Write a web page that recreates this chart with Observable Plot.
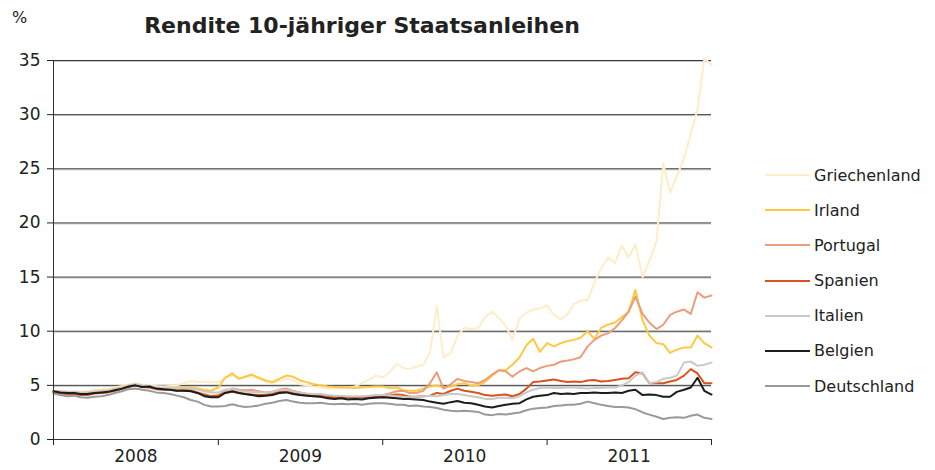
<!DOCTYPE html>
<html>
<head>
<meta charset="utf-8">
<script src="https://cdn.jsdelivr.net/npm/d3@7"></script>
<script src="https://cdn.jsdelivr.net/npm/@observablehq/plot@0.6"></script>
<style>
  html, body { margin: 0; padding: 0; background: #fff; }
  body { font-family: "DejaVu Sans", Verdana, sans-serif; color: #222; }
  #wrap { position: relative; width: 935px; height: 470px; overflow: hidden; }
  #chart { position: absolute; left: 0; top: 0; }
  #title { position: absolute; left: 0; width: 724px; top: 15px; text-align: center;
           font-weight: bold; font-size: 22px; line-height: 22px; color: #222; }
  #unit { position: absolute; left: 12px; top: 10px; font-size: 16px; line-height: 16px; color: #222; }
  .leg { position: absolute; left: 765px; height: 20px; display: flex; align-items: center;
         font-size: 16px; color: #222; white-space: nowrap; }
  .leg .sw { display: inline-block; width: 45px; height: 2px; margin-right: 4px; }
</style>
</head>
<body>
<div id="wrap">
  <div id="chart"></div>
  <div id="title">Rendite 10-jähriger Staatsanleihen</div>
  <div id="unit">%</div>
</div>
<script>
// ---- Data (10-year government bond yields, %, half-monthly readings Jan 2008 – Dec 2011) ----
const laender = ["Griechenland", "Irland", "Portugal", "Spanien", "Italien", "Belgien", "Deutschland"];
const farben  = ["#fdeec9", "#fdc943", "#eb9e78", "#d9531e", "#c9c9c9", "#1c1c1c", "#9a9a9a"];

const yTicks = [0, 5, 10, 15, 20, 25, 30, 35];
const jahre = [2008, 2009, 2010, 2011];

const griechenland = [
  4.45, 4.4, 4.4, 4.45, 4.45, 4.5, 4.6, 4.65, 4.65, 4.8, 4.95, 5.1, 5.2, 5.05, 5.05, 4.95, 4.9, 4.95, 5.0, 5.2, 5.4, 5.3, 5.35, 5.3,
  5.3, 5.7, 5.9, 5.7, 5.75, 5.8, 5.6, 5.35, 5.2, 5.4, 5.6, 5.5, 5.1, 5.0, 4.9, 4.8, 4.7, 4.7, 4.75, 4.75, 4.9, 5.2, 5.5, 5.9,
  5.75, 6.2, 7.0, 6.6, 6.5, 6.7, 6.9, 8.0, 12.3, 7.6, 8.0, 9.6, 10.3, 10.2, 10.3, 11.3, 11.8, 11.2, 10.5, 9.2, 11.2, 11.7, 12.0, 12.1,
  12.4, 11.5, 11.1, 11.6, 12.5, 12.8, 12.9, 14.5, 15.8, 16.8, 16.3, 17.9, 16.8, 18.0, 15.0, 16.5, 18.3, 25.5, 22.8, 24.3, 26.0, 28.2, 30.5, 35.2, 34.6
];
const irland = [
  4.35, 4.3, 4.25, 4.3, 4.3, 4.35, 4.4, 4.5, 4.55, 4.7, 4.85, 5.0, 5.05, 4.9, 4.9, 4.75, 4.75, 4.8, 4.75, 4.85, 4.8, 4.7, 4.6, 4.5,
  4.8, 5.7, 6.1, 5.6, 5.8, 6.0, 5.7, 5.45, 5.3, 5.6, 5.9, 5.8, 5.45, 5.3, 5.1, 5.0, 4.9, 4.85, 4.8, 4.8, 4.75, 4.8, 4.85, 4.9,
  4.9, 4.75, 4.8, 4.55, 4.5, 4.5, 4.7, 4.9, 5.0, 4.8, 4.9, 5.1, 5.2, 5.0, 5.0, 5.3, 5.9, 6.4, 6.4, 6.9, 7.6, 8.7, 9.3, 8.1,
  8.9, 8.6, 8.9, 9.1, 9.2, 9.4, 10.0, 9.3, 10.3, 10.6, 10.8, 11.3, 11.8, 13.8, 11.0, 9.6, 8.9, 8.8, 8.0, 8.3, 8.5, 8.5, 9.6, 8.9, 8.5
];
const portugal = [
  4.45, 4.35, 4.3, 4.35, 4.25, 4.3, 4.4, 4.45, 4.5, 4.6, 4.75, 4.95, 5.05, 4.95, 4.9, 4.75, 4.7, 4.7, 4.6, 4.65, 4.55, 4.35, 4.2, 4.0,
  4.1, 4.5, 4.7, 4.6, 4.55, 4.6, 4.45, 4.35, 4.4, 4.6, 4.7, 4.5, 4.35, 4.2, 4.1, 4.05, 3.95, 3.9, 3.95, 3.9, 3.9, 3.95, 4.0, 4.05,
  4.1, 4.25, 4.45, 4.5, 4.3, 4.3, 4.5, 5.2, 6.2, 4.7, 5.1, 5.6, 5.4, 5.3, 5.2, 5.5, 6.0, 6.4, 6.3, 5.8, 6.3, 6.6, 6.3, 6.6,
  6.8, 6.9, 7.2, 7.3, 7.4, 7.6, 8.6, 9.2, 9.6, 9.8, 10.3, 11.0, 11.8, 13.2, 11.6, 10.8, 10.2, 10.6, 11.5, 11.8, 12.0, 11.6, 13.6, 13.1, 13.3
];
const spanien = [
  4.35, 4.25, 4.2, 4.2, 4.1, 4.1, 4.25, 4.3, 4.35, 4.5, 4.65, 4.85, 5.0, 4.85, 4.8, 4.65, 4.6, 4.6, 4.5, 4.55, 4.5, 4.3, 4.1, 4.0,
  4.05, 4.3, 4.4, 4.3, 4.2, 4.15, 4.1, 4.1, 4.2, 4.4, 4.45, 4.3, 4.2, 4.1, 4.0, 4.0, 3.95, 3.9, 3.95, 3.85, 3.85, 3.85, 3.9, 3.95,
  4.0, 4.05, 4.15, 4.1, 3.95, 3.95, 4.0, 4.05, 4.3, 4.2, 4.5, 4.7, 4.5, 4.4, 4.3, 4.1, 4.05, 4.1, 4.15, 4.0, 4.2, 4.7, 5.3, 5.35,
  5.45, 5.55, 5.4, 5.3, 5.35, 5.3, 5.45, 5.5, 5.35, 5.4, 5.5, 5.6, 5.65, 6.2, 6.1, 5.2, 5.2, 5.2, 5.35, 5.5, 5.9, 6.5, 6.1, 5.2, 5.2
];
const italien = [
  4.5, 4.45, 4.4, 4.4, 4.35, 4.35, 4.45, 4.5, 4.5, 4.65, 4.8, 5.0, 5.1, 5.0, 4.95, 4.8, 4.75, 4.75, 4.7, 4.75, 4.7, 4.6, 4.45, 4.35,
  4.35, 4.6, 4.65, 4.5, 4.4, 4.4, 4.35, 4.35, 4.4, 4.55, 4.6, 4.45, 4.35, 4.25, 4.2, 4.2, 4.1, 4.05, 4.05, 4.0, 4.0, 4.0, 4.05, 4.1,
  4.1, 4.05, 4.0, 3.95, 3.9, 3.95, 4.0, 4.05, 4.0, 4.1, 4.2, 4.2, 4.1, 4.0, 3.9, 3.75, 3.75, 3.85, 3.85, 3.8, 4.0, 4.35, 4.6, 4.75,
  4.8, 4.75, 4.75, 4.8, 4.8, 4.75, 4.7, 4.75, 4.75, 4.8, 4.8, 5.0, 5.3, 5.9, 6.2, 5.2, 5.3, 5.6, 5.7, 5.9, 7.1, 7.2, 6.8, 6.9, 7.1
];
const belgien = [
  4.45, 4.35, 4.3, 4.3, 4.2, 4.2, 4.3, 4.35, 4.4, 4.55, 4.7, 4.9, 5.0, 4.85, 4.9, 4.7, 4.65, 4.6, 4.5, 4.5, 4.45, 4.3, 4.0, 3.9,
  3.9, 4.3, 4.45, 4.3, 4.2, 4.1, 4.0, 4.05, 4.1, 4.3, 4.35, 4.2, 4.1, 4.05, 4.0, 3.95, 3.8, 3.75, 3.8, 3.7, 3.75, 3.7, 3.8, 3.85,
  3.9, 3.85, 3.8, 3.75, 3.75, 3.7, 3.65, 3.5, 3.4, 3.3, 3.45, 3.55, 3.4, 3.35, 3.2, 3.05, 2.95, 3.1, 3.2, 3.3, 3.35, 3.7, 3.95, 4.05,
  4.1, 4.3, 4.2, 4.25, 4.2, 4.3, 4.3, 4.35, 4.3, 4.3, 4.35, 4.3, 4.5, 4.6, 4.1, 4.15, 4.1, 3.95, 3.95, 4.4, 4.6, 4.8, 5.7, 4.5, 4.15
];
const deutschland = [
  4.25, 4.1, 4.0, 4.05, 3.9, 3.85, 3.95, 4.0, 4.1, 4.3, 4.45, 4.65, 4.7, 4.6, 4.5, 4.35, 4.3, 4.2, 4.05, 3.9, 3.65, 3.5, 3.2, 3.05,
  3.05, 3.1, 3.25, 3.1, 3.0, 3.05, 3.15, 3.3, 3.4, 3.55, 3.65, 3.5, 3.4, 3.35, 3.35, 3.4, 3.3, 3.25, 3.3, 3.25, 3.3, 3.2, 3.3, 3.35,
  3.35, 3.3, 3.2, 3.2, 3.1, 3.15, 3.05, 3.0, 2.9, 2.75, 2.65, 2.6, 2.65, 2.6, 2.55, 2.3, 2.25, 2.35, 2.3, 2.4, 2.5, 2.7, 2.85, 2.9,
  2.95, 3.1, 3.15, 3.2, 3.2, 3.3, 3.5, 3.35, 3.2, 3.1, 3.0, 3.0, 2.95, 2.8, 2.5, 2.3, 2.1, 1.9, 2.0, 2.05, 2.0, 2.2, 2.3, 2.0, 1.9
];

// Observation dates: 1st and 16th of each month, Jan 2008 – Jan 2012
const daten = griechenland.map((_, i) => new Date(Date.UTC(2008, Math.floor(i / 2), i % 2 ? 16 : 1)));

const reihen = [griechenland, irland, portugal, spanien, italien, belgien, deutschland];
const rows = laender.flatMap((land, k) => reihen[k].map((v, i) => ({datum: daten[i], wert: v, land})));

const start = new Date(Date.UTC(2008, 0, 1));
const ende = new Date(Date.UTC(2012, 0, 1));
const jahresGrenzen = [...jahre, 2012].map(y => new Date(Date.UTC(y, 0, 1)));
const jahresMitten = jahre.map(y => new Date(Date.UTC(y, 6, 2)));

const chart = Plot.plot({
  width: 935,
  height: 470,
  marginLeft: 53,
  marginRight: 224,
  marginTop: 60,
  marginBottom: 31,
  style: {fontFamily: "'DejaVu Sans', Verdana, sans-serif", fontSize: "17px", color: "#222", background: "transparent"},
  x: {type: "utc", domain: [start, ende]},
  y: {domain: [0, 35]},
  color: {domain: laender, range: farben},
  marks: [
    Plot.ruleY(yTicks.filter(d => d > 0), {stroke: "#c8c8c8", strokeWidth: 1, dy: 1}),
    Plot.ruleY(yTicks.filter(d => d > 0), {stroke: "#3a3a3a", strokeWidth: 1}),
    Plot.line(rows, {x: "datum", y: "wert", z: "land", stroke: "land", strokeWidth: 2}),
    Plot.ruleY([0], {stroke: "#333", strokeWidth: 1}),
    Plot.ruleX([start], {stroke: "#333", strokeWidth: 1}),
    Plot.axisY({ticks: yTicks, tickSize: 6, tickPadding: 7, label: null, fontSize: 17}),
    Plot.axisX({ticks: jahresGrenzen, tickSize: 6, tickFormat: () => "", label: null}),
    Plot.axisX({ticks: jahresMitten, tickSize: 0, tickPadding: 10, tickFormat: d3.utcFormat("%Y"), label: null, fontSize: 17})
  ]
});
document.getElementById("chart").appendChild(chart);

// Legend
const wrap = document.getElementById("wrap");
laender.forEach((land, k) => {
  const row = document.createElement("div");
  row.className = "leg";
  row.style.top = (165 + k * 35.17) + "px";
  const sw = document.createElement("span");
  sw.className = "sw";
  sw.style.background = farben[k];
  row.appendChild(sw);
  row.appendChild(document.createTextNode(land));
  wrap.appendChild(row);
});
</script>
</body>
</html>
